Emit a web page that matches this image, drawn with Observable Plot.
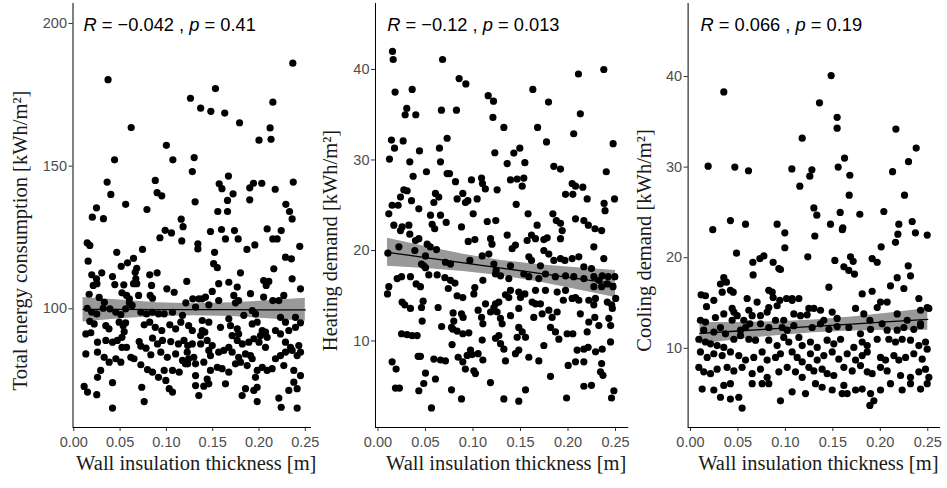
<!DOCTYPE html>
<html><head><meta charset="utf-8">
<script src="https://cdn.jsdelivr.net/npm/d3@7"></script>
<script src="https://cdn.jsdelivr.net/npm/@observablehq/plot@0.6"></script>
<style>
body{margin:0;background:#fff;}
#chart{display:flex;width:947px;height:488px;overflow:hidden;background:#fff;}
#chart svg{flex:none;overflow:visible;}
</style></head><body><div id="chart"></div>
<script>
// ---- text ----
const xTitle = "Wall insulation thickness [m]";
const yTitles = ["Total energy consumption [kWh/m²]", "Heating demand [kWh/m²]", "Cooling demand [kWh/m²]"];
const statR = ["−0.042", "−0.12", "0.066"];
const statP = ["0.41", "0.013", "0.19"];
// ---- ticks ----
const xTicks = [0, 0.05, 0.10, 0.15, 0.20, 0.25];
const yTicksEnergy = [100, 150, 200];
const yTicksHeating = [10, 20, 30, 40];
const yTicksCooling = [10, 20, 30, 40];
// ---- label positions (data units) ----
const labelX = [0.0105, 0.0097, 0.0105];
const labelY = [199.3, 44.86, 45.63];
// ---- fitted line and 95% band ----
const fitX = [0.01, 0.05, 0.09, 0.13, 0.17, 0.21, 0.25];
const fitEnergy = [99.8, 99.8, 99.7, 99.7, 99.7, 99.6, 99.6];
const loEnergy = [95.4, 96.5, 97.3, 97.6, 97.3, 96.5, 95.6];
const hiEnergy = [104.0, 103.1, 102.1, 101.8, 102.1, 102.8, 103.7];
const fitHeating = [19.8, 19.22, 18.63, 18.05, 17.47, 16.88, 16.3];
const loHeating = [18.25, 18.01, 17.68, 17.2, 16.52, 15.67, 14.8];
const hiHeating = [21.35, 20.43, 19.58, 18.9, 18.42, 18.09, 17.8];
const fitCooling = [11.65, 11.91, 12.17, 12.43, 12.68, 12.94, 13.2];
const loCooling = [10.45, 10.96, 11.4, 11.73, 11.91, 11.99, 12.0];
const hiCooling = [12.85, 12.86, 12.94, 13.13, 13.45, 13.89, 14.4];

// ---- points: [wall insulation thickness, value] ----
const energyPoints = [
[0.037,180.3],[0.2365,186.1],[0.153,177.2],[0.126,173.8],[0.137,170.3],[0.148,169.2],[0.163,168.6],[0.215,172.4],[0.179,165.2],[0.062,163.5],
[0.212,163.4],[0.213,159.4],[0.200,159.1],[0.100,157.3],[0.044,152.2],[0.107,152.2],[0.130,153.0],[0.128,148.1],[0.036,144.4],[0.088,145.0],
[0.157,143.8],[0.160,142.1],[0.167,146.5],[0.190,142.4],[0.194,144.0],[0.203,144.0],[0.2175,141.9],[0.237,144.4],[0.040,140.1],[0.090,140.7],
[0.095,139.6],[0.172,140.3],[0.166,138.0],[0.190,138.2],[0.131,137.5],[0.056,136.6],[0.0245,135.4],[0.079,134.8],[0.1555,134.1],[0.166,134.1],
[0.229,136.6],[0.233,134.1],[0.020,132.1],[0.032,131.6],[0.116,131.4],[0.118,128.8],
[0.0987,127.5],[0.1055,126.6],[0.093,124.9],[0.1166,123.8],[0.0145,123.1],[0.0173,122.2],[0.0464,119.8],[0.0742,120.8],[0.0155,116.7],[0.0645,117.7],
[0.058,116.1],[0.0512,114.9],[0.068,114.2],[0.0663,112.8],[0.082,111.9],[0.090,112.6],[0.0194,111.9],[0.0302,112.6],[0.0245,110.5],[0.0418,111.3],
[0.0443,108.5],[0.067,110.5],[0.068,108.8],[0.0645,108.8],[0.122,109.6],[0.021,108.2],[0.025,108.8],[0.054,108.4],[0.084,108.2],[0.1005,107.0],
[0.1084,105.8],[0.0166,105.1],[0.0274,104.0],[0.052,105.6],[0.057,104.7],[0.060,103.5],[0.0825,104.7],[0.085,103.7],[0.070,104.7],[0.121,102.1],
[0.033,102.3],[0.0317,100.2],[0.060,102.1],[0.063,101.2],[0.0145,100.2],[0.0194,98.8],[0.0248,98.2],[0.039,100.0],[0.0454,98.8],[0.0508,98.0],
[0.056,100.0],[0.0724,98.8],[0.0785,98.2],[0.085,98.8],[0.0915,98.2],[0.0976,98.2],[0.1066,98.8],[0.1174,97.7],[0.0173,95.6],[0.022,94.7],
[0.0346,94.1],[0.038,93.0],[0.049,95.3],[0.0533,94.1],[0.056,95.1],[0.076,94.4],[0.082,95.3],[0.088,93.5],[0.095,92.4],[0.1037,94.4],
[0.110,93.0],[0.1156,95.3],[0.013,91.2],[0.0184,91.6],[0.0544,92.0],[0.052,90.0],[0.0256,88.3],[0.0346,88.9],[0.0418,88.3],[0.047,88.9],
[0.052,86.5],[0.057,86.5],[0.0706,88.5],[0.0724,86.9],[0.078,86.2],[0.085,89.7],[0.0904,87.7],[0.0958,88.9],[0.1047,88.5],[0.113,87.7],
[0.119,88.9],[0.123,87.1],[0.013,84.2],[0.0256,84.8],[0.0328,83.0],[0.0382,81.3],[0.0454,82.5],[0.0508,81.3],[0.0616,83.0],[0.065,82.5],
[0.0832,83.9],[0.094,84.8],[0.101,83.0],[0.110,84.2],[0.1174,81.9],[0.123,80.7],[0.0724,80.4],[0.0796,78.7],[0.085,77.8],[0.0915,76.0],
[0.0976,78.4],[0.1066,78.4],[0.1138,77.8],[0.029,78.4],[0.0256,76.0],[0.0994,74.9],[0.103,72.0],[0.1066,70.8],[0.0418,74.1],[0.0734,72.5],
[0.0112,72.8],[0.0148,70.8],[0.0248,69.9],[0.076,67.5],[0.0418,65.2],
[0.2358,131.5],[0.1476,127.1],[0.1595,127.8],[0.1735,127.4],[0.1638,124.5],[0.1775,124.5],[0.2088,128.0],[0.224,127.4],[0.2149,124.5],[0.2196,124.5],
[0.134,122.8],[0.134,121.0],[0.152,119.8],[0.187,120.8],[0.1955,122.4],[0.244,121.9],[0.2286,118.1],[0.235,117.5],[0.151,115.8],[0.155,114.4],
[0.216,114.0],[0.180,112.6],[0.1565,108.8],[0.1674,109.3],[0.1765,107.6],[0.205,109.9],[0.2078,108.2],[0.2106,109.6],[0.2358,110.5],[0.2448,107.0],
[0.1495,106.1],[0.1422,104.1],[0.135,103.5],[0.1285,103.5],[0.1728,104.7],[0.1746,102.1],[0.178,102.9],[0.1908,105.3],[0.205,104.1],[0.2149,102.9],
[0.2214,102.9],[0.2268,104.7],[0.1565,102.9],[0.1458,101.4],[0.1387,103.5],[0.1315,100.6],[0.1836,97.7],[0.1927,99.4],[0.1962,98.2],[0.2232,97.0],
[0.2286,95.3],[0.2394,97.0],[0.2448,95.1],[0.124,94.1],[0.128,92.4],[0.1387,95.9],[0.1458,95.3],[0.1387,92.4],[0.1415,91.8],[0.137,90.6],
[0.1584,93.5],[0.1674,96.5],[0.1692,94.1],[0.1765,93.0],[0.178,91.2],[0.1927,94.7],[0.198,95.3],[0.2035,92.4],[0.207,91.8],[0.2088,90.0],
[0.2016,90.6],[0.2178,92.4],[0.2232,91.2],[0.2322,92.4],[0.2394,93.5],[0.128,87.7],[0.137,87.7],[0.144,88.9],[0.1495,87.1],[0.171,90.6],
[0.1765,88.9],[0.182,87.7],[0.189,88.3],[0.1944,89.5],[0.2,88.3],[0.207,86.5],[0.2286,88.3],[0.234,86.5],[0.243,87.1],[0.1225,84.8],
[0.124,82.5],[0.1296,83.0],[0.1206,80.7],[0.1458,85.4],[0.1476,83.6],[0.1565,84.8],[0.162,85.4],[0.1674,86.5],[0.171,84.8],[0.178,83.0],
[0.1854,84.2],[0.1908,83.6],[0.2178,82.5],[0.2232,83.6],[0.2286,84.8],[0.2358,85.4],[0.2412,83.6],[0.2448,84.8],[0.1315,80.7],[0.1404,81.3],
[0.1476,78.4],[0.155,79.5],[0.1602,79.0],[0.1746,80.7],[0.18,81.3],[0.1872,80.1],[0.1927,82.5],[0.2035,79.5],[0.2088,78.4],[0.2142,79.0],
[0.2268,80.1],[0.2376,78.4],[0.2448,76.6],[0.1315,76.6],[0.144,75.4],[0.1404,72.9],[0.1458,73.7],[0.1674,77.8],[0.1962,76.0],[0.198,78.4],
[0.1315,73.1],[0.135,69.6],[0.1638,73.7],[0.1854,72.0],[0.1944,71.4],[0.198,72.5],[0.2376,74.3],[0.2412,72.0],[0.2322,71.4],[0.1818,69.6],
[0.198,67.5],[0.2214,68.7],[0.224,65.5],[0.2412,65.2]
];
const heatingPoints = [
[0.0153,42.0],[0.016,41.1],[0.068,41.1],[0.2377,40.0],[0.211,39.5],[0.0854,39.0],[0.0925,38.4],[0.018,37.5],[0.036,37.8],[0.163,37.8],
[0.116,37.1],[0.1216,36.5],[0.1795,36.4],[0.0303,35.7],[0.0286,35.0],[0.0398,35.0],[0.0668,35.5],[0.0826,35.5],[0.213,35.1],[0.121,34.7],
[0.1325,33.6],[0.168,33.6],[0.206,32.9],[0.0142,32.2],[0.0265,32.1],[0.0174,31.3],[0.0728,32.4],[0.1774,32.0],[0.0647,31.3],[0.1493,31.3],
[0.2475,31.8],[0.0437,31.0],[0.123,30.8],
[0.0121,30.1],[0.0335,29.8],[0.0658,29.8],[0.037,28.2],[0.051,28.7],[0.0728,28.5],[0.0753,28.5],[0.0816,27.6],[0.0984,27.8],[0.109,28.0],
[0.110,27.4],[0.113,26.8],[0.1254,26.7],[0.0272,26.7],[0.0307,26.6],[0.0605,26.3],[0.064,25.9],[0.0893,26.3],[0.0833,25.7],[0.0921,25.3],
[0.0946,25.5],[0.1044,25.7],[0.0353,25.5],[0.0237,25.9],[0.0149,25.0],[0.0212,25.0],[0.043,24.6],[0.0588,25.3],[0.0658,23.9],[0.0718,23.1],
[0.1002,24.05],[0.0114,24.05],[0.0553,23.9],[0.057,22.9],[0.0597,22.4],[0.0879,22.6],[0.0167,22.8],[0.0254,22.6],[0.0325,22.8],[0.0237,22.2],
[0.0335,21.8],[0.115,23.2],[0.124,23.3],[0.0395,21.1],[0.043,21.3],[0.095,21.0],[0.102,21.2],[0.1185,21.3],[0.120,20.7],[0.022,20.4],
[0.0518,20.7],[0.055,20.4],[0.0616,20.1],[0.0104,19.7],[0.0388,20.0],[0.05,19.4],[0.0458,18.5],[0.0482,18.3],[0.05,18.1],[0.071,18.7],
[0.0763,18.5],[0.0967,18.9],[0.1097,19.4],[0.1167,19.6],[0.122,18.5],[0.1244,17.8],[0.0202,16.9],[0.0248,17.1],[0.0342,17.1],[0.0402,16.3],
[0.0447,16.0],[0.0535,17.3],[0.0623,17.3],[0.0704,17.0],[0.0763,16.7],[0.081,16.4],[0.1104,16.7],[0.1019,15.9],[0.1009,15.2],[0.0114,16.0],
[0.01,15.2],[0.074,15.8],[0.0833,15.0],[0.0893,14.8],[0.0254,14.3],[0.0282,14.0],[0.0342,13.6],[0.0458,13.7],[0.0475,14.4],[0.0633,13.7],
[0.0791,13.1],[0.0879,13.0],[0.0896,12.6],[0.0798,12.2],[0.0788,11.3],[0.0833,11.1],[0.0893,10.8],[0.0956,10.9],[0.1054,13.4],[0.109,12.6],
[0.1104,11.9],[0.1132,14.1],[0.1185,13.2],[0.122,13.7],[0.1237,14.1],[0.0465,12.2],[0.067,11.6],[0.0774,11.5],[0.1097,10.1],[0.1237,10.3],
[0.0248,10.8],[0.0307,10.7],[0.036,10.6],[0.0412,10.6],[0.0423,8.3],[0.0447,8.3],[0.0588,8.0],[0.0658,7.9],[0.071,7.8],[0.078,9.6],
[0.0844,8.2],[0.0893,7.7],[0.0974,9.0],[0.0991,8.5],[0.0939,8.4],[0.1054,8.6],[0.1104,7.9],[0.092,6.9],[0.1009,6.7],[0.1026,6.4],
[0.0149,7.7],[0.0191,6.9],[0.05,6.45],[0.0605,5.8],[0.0482,5.3],[0.0184,4.8],[0.0226,4.8],[0.043,4.5],[0.0774,4.6],[0.1184,5.4],
[0.0879,3.6],[0.0563,2.6],
[0.143,30.76],[0.136,29.6],[0.1546,29.7],[0.1395,27.8],[0.1465,27.9],[0.1535,28.0],[0.1518,27.1],[0.1851,29.3],[0.1921,29.0],[0.2403,28.7],
[0.2044,27.4],[0.2079,27.1],[0.2156,27.0],[0.2051,26.2],[0.1974,26.2],[0.2202,25.7],[0.238,25.2],[0.239,24.4],[0.249,25.7],[0.1455,25.1],
[0.158,24.05],[0.1841,24.05],[0.1877,23.3],[0.1921,23.0],[0.2079,23.5],[0.2167,23.3],[0.2214,22.8],[0.2284,22.4],[0.2354,22.2],[0.136,21.7],
[0.1675,22.8],[0.1616,21.7],[0.157,21.1],[0.1658,21.3],[0.1746,21.2],[0.1781,21.4],[0.1939,22.2],[0.1921,21.3],[0.1412,20.2],[0.1447,20.6],
[0.1746,20.0],[0.1798,19.6],[0.2272,20.4],[0.1588,19.3],[0.1616,18.9],[0.171,18.3],[0.1851,18.9],[0.1921,19.1],[0.1967,18.9],[0.2044,19.1],
[0.2114,19.3],[0.2167,18.2],[0.2247,18.0],[0.2377,19.1],[0.1395,18.3],[0.1237,17.4],[0.129,17.2],[0.1377,16.9],[0.1535,17.4],[0.1588,17.1],
[0.1693,16.9],[0.1763,17.4],[0.1867,17.1],[0.1974,17.2],[0.2061,17.1],[0.2167,16.9],[0.2272,17.1],[0.2325,16.7],[0.236,17.2],[0.2423,17.1],
[0.2493,17.1],[0.2272,16.0],[0.2354,16.0],[0.2414,16.3],[0.2474,16.0],[0.1395,15.6],[0.1482,15.4],[0.1658,15.6],[0.1763,15.6],[0.1886,15.4],
[0.1974,15.6],[0.2079,14.8],[0.2114,14.5],[0.1272,14.3],[0.1342,15.1],[0.1377,14.8],[0.15,14.8],[0.1546,15.2],[0.1623,14.3],[0.1658,14.1],
[0.171,14.1],[0.1951,14.5],[0.2044,14.7],[0.2219,14.5],[0.2272,14.0],[0.2289,14.7],[0.2414,14.3],[0.246,14.0],[0.2502,14.7],[0.2467,13.6],
[0.1254,13.2],[0.1289,12.5],[0.1395,12.8],[0.1482,13.6],[0.164,12.6],[0.1728,13.0],[0.1798,13.4],[0.1833,12.6],[0.1886,13.2],[0.213,13.0],
[0.2219,12.1],[0.2282,12.6],[0.2325,11.7],[0.243,12.5],[0.2449,11.7],[0.1307,11.9],[0.1272,10.6],[0.1482,11.5],[0.1518,11.0],[0.1553,10.4],
[0.1465,10.4],[0.1816,11.5],[0.1868,11.0],[0.1904,10.2],[0.1991,10.8],[0.2051,10.8],[0.2202,11.0],[0.129,9.7],[0.1325,9.1],[0.1447,8.6],
[0.1482,9.0],[0.1588,8.2],[0.1693,7.8],[0.1746,9.5],[0.2096,9.0],[0.2167,9.1],[0.2212,9.3],[0.229,8.8],[0.236,9.1],[0.2448,9.9],
[0.1342,7.8],[0.2002,7.3],[0.2079,7.7],[0.2167,7.7],[0.2354,7.5],[0.2342,6.6],[0.2368,6.2],[0.1816,6.1],[0.2167,5.0],[0.2247,5.1],
[0.1553,4.6],[0.1325,3.6],[0.1482,3.35],[0.1985,3.7],[0.2483,4.5],[0.2458,3.7]
];
const coolingPoints = [
[0.0351,38.3],[0.1482,40.1],[0.1359,37.1],[0.1545,35.5],[0.1545,34.3],[0.1177,33.2],[0.2164,34.2],[0.2378,32.1],[0.1623,31.0],[0.2297,30.6],
[0.0186,30.1],[0.0467,30.0],[0.0611,29.6],[0.1068,29.8],[0.1279,29.7],[0.1257,29.0],[0.1556,30.0],[0.1679,29.1],[0.2129,29.5],[0.1152,27.9],
[0.1672,26.9],[0.2255,26.9],[0.130,25.5],[0.1331,24.7],[0.1577,25.0],[0.1784,24.8],[0.2037,25.1],
[0.0421,24.1],[0.0235,23.1],[0.058,23.7],[0.0913,23.7],[0.0994,22.75],[0.1475,23.7],[0.1605,23.3],[0.16,23.1],[0.131,22.4],[0.2195,23.7],
[0.2336,24.0],[0.2185,22.6],[0.216,21.7],[0.2494,22.5],[0.237,22.75],[0.0994,21.1],[0.2009,21.2],[0.0485,20.5],[0.1236,20.1],[0.0773,20.2],
[0.0731,19.9],[0.0657,19.5],[0.1521,19.7],[0.1686,20.1],[0.1714,19.6],[0.1914,19.9],[0.1967,19.5],[0.2294,19.1],[0.0871,19.5],[0.0931,18.8],
[0.0948,18.7],[0.1616,19.0],[0.1668,18.6],[0.1728,18.2],[0.066,18.1],[0.0351,17.8],[0.0379,17.3],[0.0316,17.1],[0.0421,16.4],[0.045,16.2],
[0.0112,15.9],[0.0158,15.8],[0.0246,15.3],[0.0169,14.6],[0.0334,16.2],[0.0597,15.5],[0.0702,15.1],[0.0825,16.4],[0.0861,16.2],[0.0871,15.6],
[0.0941,15.3],[0.1012,15.5],[0.1071,15.5],[0.0825,14.5],[0.0913,14.7],[0.1458,16.75],[0.1809,16.0],[0.1914,16.3],[0.2002,15.1],[0.2107,16.9],
[0.2178,17.8],[0.2248,16.6],[0.2318,18.0],[0.2406,15.5],[0.0263,13.4],[0.0351,13.8],[0.0439,14.4],[0.0457,14.0],[0.0492,13.6],[0.0439,13.1],
[0.0615,14.2],[0.065,13.6],[0.0562,13.1],[0.0625,12.7],[0.058,12.3],[0.0527,12.0],[0.0738,13.6],[0.0808,14.0],[0.1071,15.3],[0.1142,15.5],
[0.1247,14.4],[0.13,14.4],[0.137,14.2],[0.1229,13.7],[0.1159,13.6],[0.1089,13.8],[0.0983,13.1],[0.1405,13.1],[0.1493,14.0],[0.1545,13.3],
[0.1739,14.4],[0.1826,13.8],[0.189,13.1],[0.1967,14.5],[0.2072,15.1],[0.2178,13.8],[0.2283,13.1],[0.2424,14.2],[0.2494,14.5],[0.2511,14.4],
[0.2424,12.7],[0.0105,13.1],[0.0158,12.9],[0.014,12.0],[0.0316,12.3],[0.0246,11.8],[0.0369,11.6],[0.0738,12.7],[0.0825,12.3],[0.0896,13.1],
[0.0966,12.3],[0.1019,12.0],[0.1089,12.5],[0.1282,12.3],[0.137,12.7],[0.1458,12.1],[0.1545,12.4],[0.1668,12.3],[0.1791,11.6],[0.1897,12.1],
[0.2019,12.7],[0.2072,12.0],[0.2178,12.0],[0.2248,12.3],[0.2353,12.1],[0.2424,12.5],[0.0088,11.0],[0.0158,10.7],[0.0211,10.5],[0.0281,10.3],
[0.0351,10.1],[0.0457,11.0],[0.0527,11.4],[0.0615,11.0],[0.0685,10.9],[0.0825,10.9],[0.0913,10.3],[0.0983,11.2],[0.1036,10.7],[0.1142,11.2],
[0.1177,10.3],[0.1264,10.7],[0.1335,10.1],[0.144,10.9],[0.151,10.5],[0.1581,11.0],[0.1721,10.1],[0.1809,10.7],[0.1862,10.3],[0.1967,11.0],
[0.209,11.0],[0.216,10.7],[0.223,11.0],[0.2318,10.9],[0.2406,10.3],[0.2476,10.7],[0.2494,9.9],[0.0105,9.6],[0.0176,9.0],[0.0246,9.4],
[0.0334,9.2],[0.0421,9.6],[0.0509,9.2],[0.058,8.7],[0.0667,9.0],[0.0755,9.6],[0.0808,8.7],[0.0896,9.0],[0.0948,9.4],[0.1071,9.6],
[0.1124,9.0],[0.1177,8.5],[0.1264,9.4],[0.1335,8.7],[0.1405,9.2],[0.1493,9.6],[0.1563,8.8],[0.1651,9.4],[0.1739,8.7],[0.1809,9.2],
[0.1862,9.6],[0.2002,9.0],[0.2055,8.7],[0.2143,9.2],[0.2195,8.7],[0.2266,9.0],[0.2353,9.4],[0.2441,8.8],[0.0088,7.9],[0.014,7.4],
[0.0211,7.2],[0.0281,7.7],[0.0386,7.9],[0.0457,7.5],[0.0544,7.9],[0.065,7.2],[0.0738,7.7],[0.0808,6.8],[0.0931,7.4],[0.1019,7.9],
[0.1106,7.4],[0.1177,6.8],[0.1247,7.9],[0.13,7.5],[0.1387,7.7],[0.144,7.2],[0.151,7.0],[0.1616,7.9],[0.1704,7.5],[0.1791,8.1],
[0.1862,7.4],[0.1914,7.2],[0.2002,7.9],[0.2072,7.5],[0.2213,7.0],[0.2318,6.8],[0.2406,7.4],[0.2476,7.7],[0.2511,6.8],[0.0123,5.5],
[0.0246,5.4],[0.0351,5.9],[0.0421,6.1],[0.0316,4.6],[0.0421,4.4],[0.0509,4.6],[0.065,6.1],[0.0755,6.1],[0.0825,6.1],[0.0948,4.2],
[0.1071,5.2],[0.1212,5.0],[0.1317,6.1],[0.1387,5.7],[0.1493,5.4],[0.1616,5.9],[0.1598,5.0],[0.1651,5.0],[0.1739,5.4],[0.1809,5.5],
[0.1897,5.0],[0.1932,4.2],[0.2002,5.4],[0.2107,6.1],[0.223,5.4],[0.2318,6.1],[0.2424,5.5],[0.2494,6.1],[0.189,3.7],[0.0544,3.4]
];

// ---- panel configuration ----
const panels = [
  {pts: energyPoints, fit: fitEnergy, lo: loEnergy, hi: hiEnergy, yTicks: yTicksEnergy,
   width: 315, ml: 72.5, mr: 4, xDom: [-0.00086, 0.2567], yDom: [58.4, 207.0], titleDx: -52.5},
  {pts: heatingPoints, fit: fitHeating, lo: loHeating, hi: hiHeating, yTicks: yTicksHeating,
   width: 316, ml: 60, mr: 2.7, xDom: [-0.0026, 0.264], yDom: [0.44, 47.29], titleDx: -45},
  {pts: coolingPoints, fit: fitCooling, lo: loCooling, hi: hiCooling, yTicks: yTicksCooling,
   width: 316, ml: 56.6, mr: 7, xDom: [-0.0025, 0.2634], yDom: [1.26, 48.06], titleDx: -44}
];

const sans = "'Liberation Sans', Arial, sans-serif";
const serif = "'Liberation Serif', 'Times New Roman', serif";
const chart = document.getElementById("chart");

panels.forEach((p, i) => {
  const pts = p.pts.map(([x, y]) => ({x, y}));
  const band = fitX.map((x, j) => ({x, fit: p.fit[j], lo: p.lo[j], hi: p.hi[j]}));
  const label = [{x: labelX[i], y: labelY[i], text: `R = ${statR[i]} , p = ${statP[i]}`}];
  const svg = Plot.plot({
    width: p.width, height: 488,
    marginLeft: p.ml, marginRight: p.mr, marginTop: 3, marginBottom: 61,
    x: {domain: p.xDom},
    y: {domain: p.yDom},
    style: {fontFamily: sans, fontSize: "14.5px", background: "transparent", overflow: "visible"},
    marks: [
      Plot.areaY(band, {x: "x", y1: "lo", y2: "hi", fill: "#999999"}),
      Plot.dot(pts, {x: "x", y: "y", r: 3.6, fill: "black", stroke: "none"}),
      Plot.line(band, {x: "x", y: "fit", stroke: "black", strokeWidth: 1.3}),
      Plot.axisX({ticks: xTicks, tickFormat: d3.format(".2f"), tickSize: 4, tickPadding: 5,
                  label: null, fontSize: 14.5, fill: "#4d4d4d", stroke: "#333333"}),
      Plot.axisY({ticks: p.yTicks, tickSize: 4, tickPadding: 2, label: null,
                  fontSize: 14.5, fill: "#4d4d4d", stroke: "#333333"}),
      Plot.ruleX([p.xDom[0]], {stroke: "black", strokeWidth: 1}),
      Plot.ruleY([p.yDom[0]], {stroke: "black", strokeWidth: 1}),
      Plot.text([xTitle], {frameAnchor: "bottom", lineAnchor: "middle", textAnchor: "middle",
                           dy: 36.4, dx: 4, fontFamily: serif, fontSize: 20.5, fill: "#1a1a1a"}),
      Plot.text([yTitles[i]], {frameAnchor: "left", lineAnchor: "middle", textAnchor: "middle", rotate: -90,
                               dx: p.titleDx, dy: 25, fontFamily: serif, fontSize: 20.5, fill: "#1a1a1a"}),
      Plot.text(label, {x: "x", y: "y", text: "text", textAnchor: "start", lineAnchor: "middle",
                        fontSize: 18.3, fontFamily: sans, fill: "black"})
    ]
  });
  // italic R and p in the correlation label
  svg.querySelectorAll("text").forEach(t => {
    if (t.textContent.startsWith("R = ")) {
      const parts = [["R", true], [` = ${statR[i]} , `, false], ["p", true], [` = ${statP[i]}`, false]];
      t.textContent = "";
      parts.forEach(([s, it]) => {
        const ts = document.createElementNS("http://www.w3.org/2000/svg", "tspan");
        ts.textContent = s;
        if (it) ts.setAttribute("font-style", "italic");
        t.appendChild(ts);
      });
    }
  });
  chart.appendChild(svg);
});
</script>
</body></html>
